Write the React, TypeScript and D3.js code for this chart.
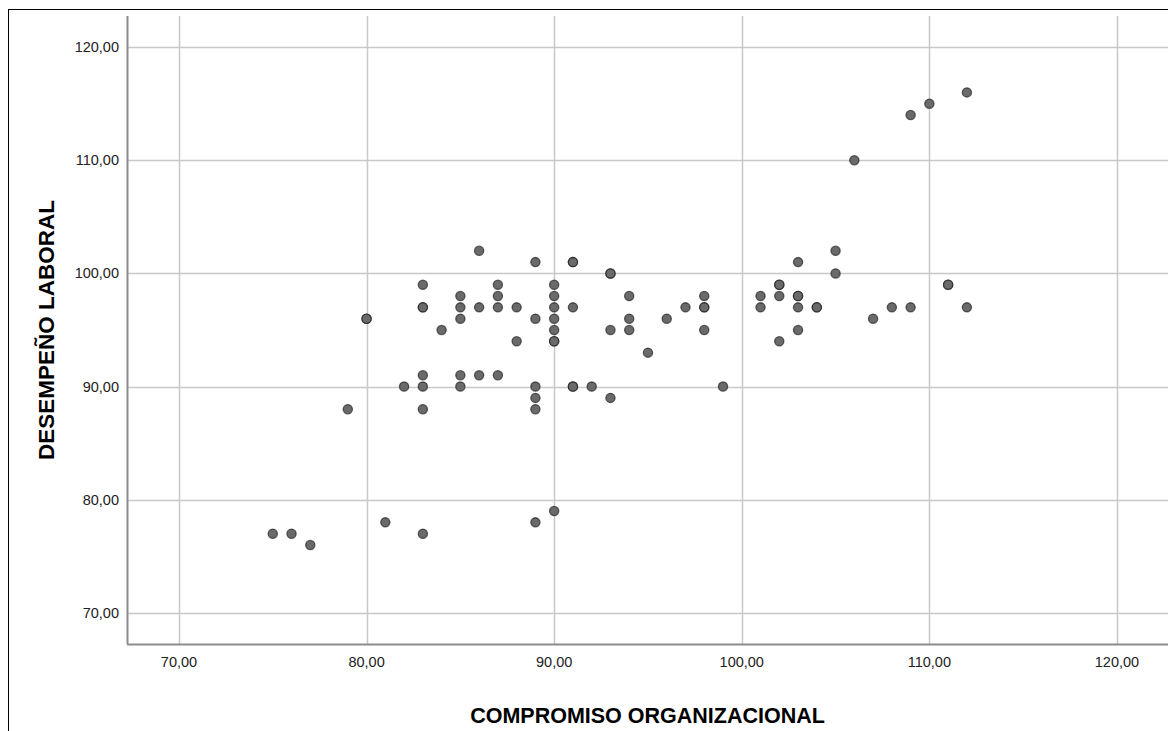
import React, { useEffect, useRef } from 'react';
import * as d3 from 'd3';

// compromiso organizacional (x) and desempeño laboral (y), one entry per case
const compromiso = [
  75, 76, 77, 79, 80, 80, 81, 82,
  83, 83, 83, 83, 83, 83, 83,
  84, 85, 85, 85, 85, 85,
  86, 86, 86, 87, 87, 87, 87, 88, 88,
  89, 89, 89, 89, 89, 89,
  90, 90, 90, 90, 90, 90, 90, 90,
  91, 91, 91, 91, 91, 92, 93, 93, 93, 93,
  94, 94, 94, 95, 96, 97, 98, 98, 98, 98, 99,
  101, 101, 102, 102, 102, 102,
  103, 103, 103, 103, 103, 104, 104,
  105, 105, 106, 107, 108, 109, 109, 110, 111, 111, 112, 112
];
const desempeno = [
  77, 77, 76, 88, 96, 96, 78, 90,
  99, 97, 97, 91, 90, 88, 77,
  95, 98, 97, 96, 91, 90,
  102, 97, 91, 99, 98, 97, 91, 97, 94,
  101, 96, 90, 89, 88, 78,
  99, 98, 97, 96, 95, 94, 94, 79,
  101, 101, 97, 90, 90, 90, 100, 100, 95, 89,
  98, 96, 95, 93, 96, 97, 98, 97, 97, 95, 90,
  98, 97, 99, 99, 98, 94,
  101, 98, 98, 97, 95, 97, 97,
  102, 100, 110, 96, 97, 114, 97, 115, 99, 99, 116, 97
];

const xTicks = [70, 80, 90, 100, 110, 120];
const yTicks = [70, 80, 90, 100, 110, 120];

const W = 1168;
const H = 731;
const margin = { top: 16, right: 0, bottom: 87, left: 127 };

const fmt = (v: number) => v.toFixed(2).replace('.', ',');

const App = () => {
  const svgRef = useRef<SVGSVGElement>(null);

  useEffect(() => {
    const svg = d3.select(svgRef.current);
    svg.selectAll('*').remove();

    const x = d3.scaleLinear().domain([67.23, 122.72]).range([margin.left, W - margin.right]);
    const y = d3.scaleLinear().domain([67.25, 122.75]).range([H - margin.bottom, margin.top]);

    // outer frame (only top and left edges show)
    svg.append('rect')
      .attr('x', 8.5).attr('y', 9.5)
      .attr('width', W).attr('height', H)
      .attr('fill', 'none').attr('stroke', '#000').attr('stroke-width', 1);

    // grid
    const grid = svg.append('g');
    grid.selectAll('.gx').data(xTicks).enter().append('line')
      .attr('x1', (d) => Math.round(x(d)) + 0.5).attr('x2', (d) => Math.round(x(d)) + 0.5)
      .attr('y1', margin.top).attr('y2', H - margin.bottom)
      .attr('stroke', '#c8c8c8').attr('stroke-width', 1.5);
    grid.selectAll('.gy').data(yTicks).enter().append('line')
      .attr('y1', (d) => Math.round(y(d)) + 0.5).attr('y2', (d) => Math.round(y(d)) + 0.5)
      .attr('x1', margin.left).attr('x2', W)
      .attr('stroke', '#c8c8c8').attr('stroke-width', 1.5);

    // axes lines
    svg.append('line')
      .attr('x1', margin.left + 0.5).attr('x2', margin.left + 0.5)
      .attr('y1', margin.top).attr('y2', H - margin.bottom)
      .attr('stroke', '#8c8c8c').attr('stroke-width', 2);
    svg.append('line')
      .attr('x1', margin.left).attr('x2', W)
      .attr('y1', H - margin.bottom + 0.5).attr('y2', H - margin.bottom + 0.5)
      .attr('stroke', '#8c8c8c').attr('stroke-width', 2);

    // tick labels
    svg.append('g').selectAll('text').data(xTicks).enter().append('text')
      .attr('x', (d) => x(d)).attr('y', H - margin.bottom + 23)
      .attr('text-anchor', 'middle')
      .attr('font-family', 'Liberation Sans, Arial, sans-serif')
      .attr('font-size', 14.5).attr('fill', '#222')
      .text((d) => fmt(d));
    svg.append('g').selectAll('text').data(yTicks).enter().append('text')
      .attr('x', margin.left - 8).attr('y', (d) => y(d) + 5)
      .attr('text-anchor', 'end')
      .attr('font-family', 'Liberation Sans, Arial, sans-serif')
      .attr('font-size', 14.5).attr('fill', '#222')
      .text((d) => fmt(d));

    // axis titles
    svg.append('text')
      .attr('x', (margin.left + W) / 2).attr('y', 723)
      .attr('text-anchor', 'middle')
      .attr('font-family', 'Liberation Sans, Arial, sans-serif')
      .attr('font-size', 21.5).attr('font-weight', 'bold').attr('fill', '#000')
      .text('COMPROMISO ORGANIZACIONAL');
    svg.append('text')
      .attr('transform', 'translate(54 ' + (margin.top + H - margin.bottom) / 2 + ') rotate(-90)')
      .attr('text-anchor', 'middle')
      .attr('font-family', 'Liberation Sans, Arial, sans-serif')
      .attr('font-size', 22.5).attr('font-weight', 'bold').attr('fill', '#000')
      .text('DESEMPEÑO LABORAL');

    // points
    svg.append('g').selectAll('circle').data(compromiso).enter().append('circle')
      .attr('cx', (d) => x(d))
      .attr('cy', (d, i) => y(desempeno[i]))
      .attr('r', 4.6)
      .attr('fill', '#6a6a6a')
      .attr('stroke', '#1a1a1a')
      .attr('stroke-opacity', 0.65)
      .attr('stroke-width', 1.3);
  }, []);

  return (
    <svg ref={svgRef} width={W} height={H}
      style={{ position: 'absolute', left: 0, top: 0, background: '#fff' }} />
  );
};

export default App;
